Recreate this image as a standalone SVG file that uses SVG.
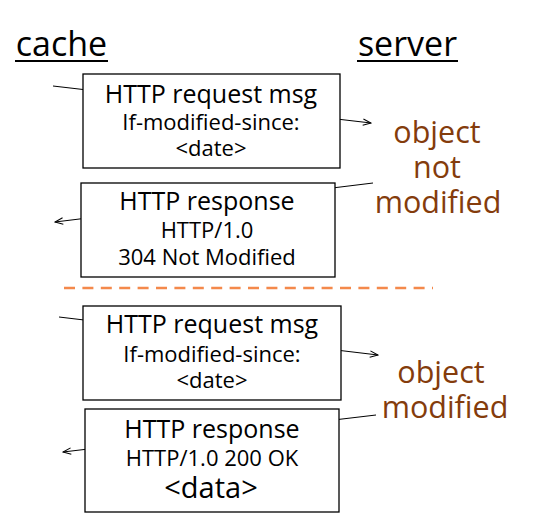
<svg xmlns="http://www.w3.org/2000/svg" width="534" height="523" viewBox="0 0 534 523">
<defs>
<style>
.t{font-family:"Open Sans","Noto Sans","Liberation Sans",sans-serif;fill:#000;text-anchor:middle}
.box{fill:#fff;stroke:#000;stroke-width:1.3}
.c{stroke:#000;stroke-width:1;fill:none;marker-end:url(#ah)}
.b{font-family:"Open Sans","Noto Sans","Liberation Sans",sans-serif;fill:#843c0c;text-anchor:middle;font-size:30.5px}
.h{font-size:34px}
.l1{font-size:25px}
.l2{font-size:22px}
</style>
<marker id="ah" viewBox="0 0 10 8" refX="9" refY="4" markerWidth="10" markerHeight="8" markerUnits="userSpaceOnUse" orient="auto">
<path d="M1,0.8 L9,4 L1,7.2" fill="none" stroke="#000" stroke-width="1.1"/>
</marker>
</defs>
<g id="headers">
<text class="t h" x="61.5" y="56">cache</text>
<line x1="15" y1="61" x2="108" y2="61" stroke="#000" stroke-width="2"/>
<text class="t h" x="407.5" y="56">server</text>
<line x1="357" y1="61" x2="458" y2="61" stroke="#000" stroke-width="2"/>
</g>
<g id="connectors">
<line class="c" x1="53" y1="86" x2="371" y2="123"/>
<line class="c" x1="373" y1="183" x2="55" y2="222"/>
<line class="c" x1="59" y1="317" x2="378" y2="355"/>
<line class="c" x1="376" y1="415" x2="63" y2="452"/>
<line x1="64" y1="288" x2="433" y2="288" stroke="#f4894b" stroke-width="2.5" stroke-dasharray="11 7.4"/>
</g>
<g id="req1">
<rect class="box" x="83" y="74" width="257" height="94"/>
<text class="t l1" x="211" y="103">HTTP request msg</text>
<text class="t l2" x="211" y="130">If-modified-since:</text>
<text class="t l2" x="211" y="156">&lt;date&gt;</text>
</g>
<g id="resp1">
<rect class="box" x="81" y="183" width="254" height="94"/>
<text class="t l1" x="207" y="210">HTTP response</text>
<text class="t l2" x="207" y="238">HTTP/1.0</text>
<text class="t l2" x="207" y="265">304 Not Modified</text>
</g>
<g id="notmod">
<text class="b"><tspan x="437" y="143">object</tspan><tspan x="437" y="178">not</tspan><tspan x="438" y="213">modified</tspan></text>
</g>
<g id="req2">
<rect class="box" x="83" y="306" width="258" height="94"/>
<text class="t l1" x="212" y="333">HTTP request msg</text>
<text class="t l2" x="212" y="362">If-modified-since:</text>
<text class="t l2" x="212" y="388">&lt;date&gt;</text>
</g>
<g id="resp2">
<rect class="box" x="85" y="409" width="254" height="103"/>
<text class="t l1" x="212" y="438">HTTP response</text>
<text class="t l2" x="212" y="466">HTTP/1.0 200 OK</text>
<text class="t" x="211" y="498" font-size="29px">&lt;data&gt;</text>
</g>
<g id="mod">
<text class="b"><tspan x="441" y="383">object</tspan><tspan x="445" y="418">modified</tspan></text>
</g>
</svg>
